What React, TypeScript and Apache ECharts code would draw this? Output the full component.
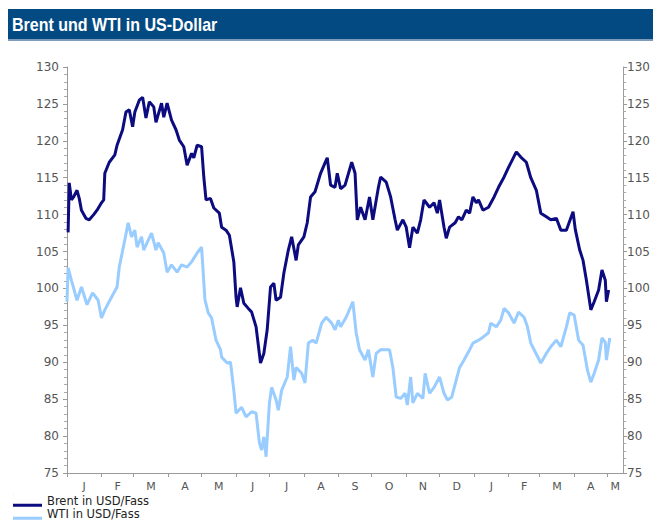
import React, { useEffect, useRef } from "react";
import * as echarts from "echarts";

// x values are days since 2012-01-01
const MONTH_LABELS = ["J", "F", "M", "A", "M", "J", "J", "A", "S", "O", "N", "D", "J", "F", "M", "A", "M"];
const AXIS_END_DAY = 500; // 2013-05-15

const BRENT_DAYS = [
  1, 2, 4, 6, 9, 11, 13, 17, 20, 24, 27, 31, 33, 34, 38, 43, 45, 50, 53, 56, 59, 61, 65, 68, 71, 74, 78, 80,
  85, 87, 90, 94, 98, 101, 105, 108, 112, 114, 117, 121, 123, 125, 129, 132, 137, 139, 143, 146, 150, 152,
  153, 156, 159, 163, 166, 170, 174, 177, 180, 183, 186, 188, 192, 195, 199, 202, 206, 208, 213, 216, 219,
  223, 228, 232, 234, 237, 241, 243, 246, 250, 256, 259, 261, 264, 268, 272, 275, 280, 282, 287, 291, 295,
  297, 302, 305, 308, 311, 315, 318, 321, 326, 330, 333, 335, 339, 341, 344, 349, 352, 355, 359, 362, 365,
  368, 370, 374, 379, 384, 388, 393, 397, 404, 408, 413, 417, 422, 426, 431, 435, 440, 444, 449, 455, 457,
  461, 464, 467, 471, 474, 478, 481, 484, 485, 487,
];
const BRENT = [
  107.6, 114.3, 112.0, 112.4, 113.3, 112.2, 110.6, 109.5, 109.3, 110.0, 110.6, 111.6, 112.0, 115.6, 117.1,
  118.1, 119.4, 121.5, 123.9, 124.2, 121.9, 123.9, 125.5, 125.9, 123.1, 125.3, 124.6, 122.5, 125.1, 123.2,
  125.1, 122.8, 121.5, 120.1, 119.2, 116.7, 118.3, 117.7, 119.4, 119.2, 115.1, 112.0, 112.2, 110.9, 110.2,
  108.3, 107.9, 107.2, 103.6, 98.8, 97.5, 100.1, 98.0, 97.3, 96.8, 94.8, 89.9, 91.2, 94.4, 100.2, 100.7,
  98.4, 98.8, 102.1, 105.2, 107.0, 103.8, 105.9, 107.0, 108.9, 112.4, 113.1, 115.6, 117.0, 117.7, 114.0,
  113.7, 115.6, 113.5, 114.0, 117.1, 115.6, 109.3, 111.0, 109.3, 112.4, 109.3, 113.7, 115.1, 114.4, 112.4,
  109.3, 107.9, 109.3, 108.3, 105.5, 108.3, 107.5, 109.3, 112.0, 111.0, 111.6, 110.2, 112.0, 108.3, 106.8,
  108.3, 108.9, 109.7, 109.3, 110.6, 110.2, 112.4, 111.6, 112.0, 110.6, 111.0, 112.4, 113.7, 115.1, 116.4,
  118.5, 117.8, 117.1, 115.0, 113.3, 110.2, 109.7, 109.3, 109.5, 107.9, 107.9, 110.4, 108.0, 105.2, 103.8,
  101.1, 97.1, 98.2, 99.8, 102.5, 101.1, 98.2, 99.8,
];

const WTI_DAYS = [
  0, 1, 4, 9, 13, 18, 23, 28, 31, 34, 40, 45, 47, 52, 55, 58, 61, 63, 67, 69, 72, 76, 80, 82, 87, 90, 94,
  99, 103, 108, 112, 117, 121, 124, 127, 130, 134, 138, 139, 144, 147, 150, 152, 157, 161, 166, 170, 173,
  175, 177, 179, 182, 184, 188, 190, 193, 198, 201, 204, 206, 211, 214, 217, 221, 224, 229, 233, 238, 241,
  244, 246, 251, 257, 260, 263, 268, 271, 275, 278, 282, 286, 290, 293, 296, 300, 304, 306, 309, 311, 315,
  320, 322, 326, 330, 335, 339, 342, 346, 350, 353, 357, 362, 365, 370, 374, 379, 381, 386, 390, 393, 397,
  402, 406, 411, 414, 417, 420, 426, 431, 435, 440, 444, 449, 452, 456, 460, 464, 468, 471, 474, 478, 481,
  484, 485, 488,
];
const WTI = [
  98.2, 102.8, 101.1, 98.4, 100.2, 97.8, 99.4, 98.4, 96.0, 97.1, 98.8, 100.2, 102.9, 106.6, 108.9, 107.0,
  107.9, 105.6, 107.0, 105.2, 106.2, 107.5, 105.2, 106.2, 104.8, 102.2, 103.2, 102.2, 103.2, 102.9, 103.6,
  104.8, 105.6, 98.5, 96.7, 96.0, 93.0, 91.7, 90.7, 89.9, 90.0, 86.2, 83.1, 83.9, 82.6, 83.3, 83.1, 79.1,
  78.1, 79.9, 77.2, 84.5, 86.6, 84.9, 83.5, 86.2, 88.0, 92.1, 87.6, 89.3, 88.5, 87.2, 92.6, 93.0, 92.6,
  95.3, 96.1, 95.3, 94.4, 95.7, 94.8, 96.1, 98.2, 94.0, 91.7, 90.3, 91.7, 88.0, 91.2, 91.7, 91.7, 91.7,
  89.3, 85.3, 85.1, 85.8, 84.2, 88.0, 84.5, 85.8, 85.1, 88.5, 85.8, 86.6, 88.0, 85.8, 84.9, 85.3, 87.6,
  89.3, 90.3, 91.7, 92.6, 93.0, 93.4, 94.0, 95.3, 94.8, 95.7, 97.3, 96.7, 95.3, 96.8, 96.1, 94.8, 92.6,
  91.7, 89.9, 91.2, 92.1, 93.0, 92.1, 94.8, 96.7, 96.4, 93.0, 92.3, 88.9, 87.3, 88.5, 90.3, 93.3, 92.7,
  90.3, 93.3,
];

const TITLE = "Brent und WTI in US-Dollar";
const SERIES_NAMES = ["Brent in USD/Fass", "WTI in USD/Fass"];

function dayOf(y: number, m: number) {
  return Math.round((Date.UTC(y, m, 1) - Date.UTC(2012, 0, 1)) / 86400000);
}

export default function App() {
  const ref = useRef<HTMLDivElement>(null);
  useEffect(() => {
    if (!ref.current) return;
    const chart = echarts.init(ref.current, undefined, { renderer: "svg" });

    const monthStarts: number[] = [];
    for (let i = 0; i < MONTH_LABELS.length; i++) monthStarts.push(dayOf(2012, i));
    const centers: number[] = monthStarts.map((s, i) => {
      const e = i + 1 < monthStarts.length ? monthStarts[i + 1] : AXIS_END_DAY;
      return (s + e) / 2;
    });
    const labelMap = new Map<number, string>();
    centers.forEach((c, i) => labelMap.set(c, MONTH_LABELS[i]));

    const labelStyle = { color: "#555", fontFamily: "DejaVu Sans", fontSize: 12 };
    const axisLine = { show: true, lineStyle: { color: "#9a9a9a", width: 1 } };

    const yAxisBase = {
      type: "value" as const,
      min: 75,
      max: 130,
      interval: 5,
      axisLine,
      axisTick: { show: true, length: 4, lineStyle: { color: "#9a9a9a" } },
      minorTick: { show: true, splitNumber: 5, length: 3, lineStyle: { color: "#aaa" } },
      splitLine: { show: false },
    };

    chart.setOption({
      animation: false,
      backgroundColor: "#fff",
      grid: { left: 67, right: 25, top: 67, bottom: 49 },
      graphic: [
        { type: "rect", shape: { x: 8, y: 9, width: 645, height: 31 }, style: { fill: "#044a82" } },
        { type: "rect", shape: { x: 8, y: 39, width: 645, height: 2 }, style: { fill: "#7d9cbc" } },
        {
          type: "text",
          x: 12,
          y: 25,
          scaleX: 0.89,
          style: {
            text: TITLE,
            fill: "#fff",
            font: "bold 18px 'Liberation Sans', sans-serif",
            verticalAlign: "middle",
          },
        },
      ],
      legend: {
        orient: "vertical",
        left: 13,
        top: 494,
        height: 28,
        padding: 0,
        itemWidth: 29,
        itemHeight: 13,
        itemGap: 0,
        icon: "path://M0,0 L0.3,0 L0.3,0.2 L0,0.2 Z M0,9.5 L29,9.5 L29,12.5 L0,12.5 Z",
        data: SERIES_NAMES,
        textStyle: {
          color: "#222",
          fontFamily: "DejaVu Sans",
          fontSize: 11.5,
          lineHeight: 13,
        },
        selectedMode: false,
      },
      xAxis: {
        type: "value",
        min: 0,
        max: AXIS_END_DAY,
        axisLine,
        axisTick: { show: true, length: 4, customValues: monthStarts, lineStyle: { color: "#9a9a9a" } },
        axisLabel: {
          ...labelStyle,
          fontSize: 11,
          margin: 8,
          customValues: centers,
          formatter: (v: number) => labelMap.get(v) ?? "",
        },
        splitLine: { show: false },
      },
      yAxis: [
        { ...yAxisBase, position: "left", axisLabel: { ...labelStyle, margin: 8 } },
        { ...yAxisBase, position: "right", axisLabel: { ...labelStyle, margin: 4 } },
      ],
      series: [
        {
          name: SERIES_NAMES[0],
          type: "line",
          showSymbol: false,
          data: BRENT_DAYS.map((d, i) => [d, BRENT[i]]),
          lineStyle: { color: "#0c0c80", width: 3 },
          itemStyle: { color: "#0c0c80" },
          z: 3,
        },
        {
          name: SERIES_NAMES[1],
          type: "line",
          showSymbol: false,
          data: WTI_DAYS.map((d, i) => [d, WTI[i]]),
          lineStyle: { color: "#99ccff", width: 3 },
          itemStyle: { color: "#99ccff" },
          z: 2,
        },
      ],
    });
    return () => chart.dispose();
  }, []);
  return <div ref={ref} style={{ position: "absolute", left: 0, top: 0, width: 653, height: 522 }} />;
}
